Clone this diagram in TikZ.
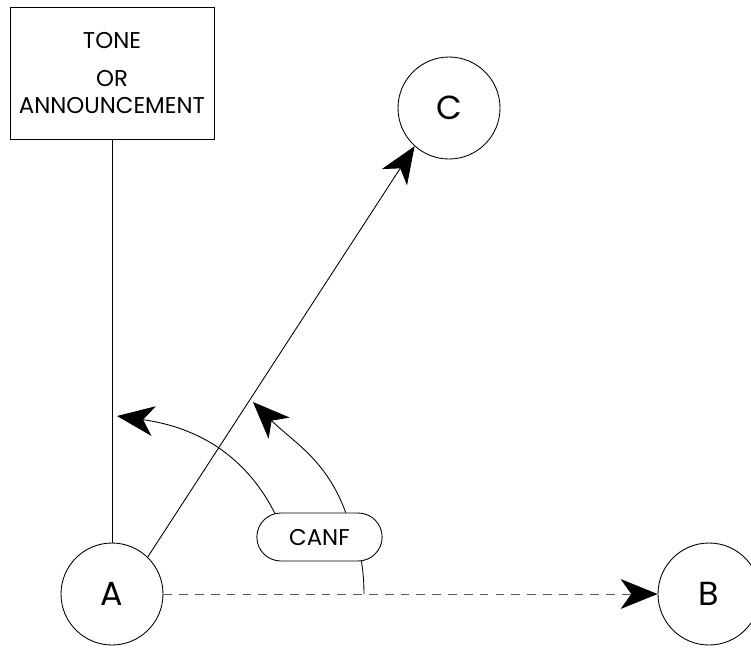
\documentclass[tikz,border=0pt]{standalone}
\usepackage{fontspec}
\setmainfont{Poppins}
\usetikzlibrary{arrows.meta,shapes.misc}

\begin{document}
\begin{tikzpicture}[x=0.02cm, y=0.02cm, line width=0.5pt,
    party/.style={draw, circle, minimum size=102*0.02cm, inner sep=0pt, font=\fontsize{19}{22}\selectfont},
    tonebox/.style={draw, minimum width=204*0.02cm, minimum height=132*0.02cm, align=center, font=\fontsize{13}{15.2}\selectfont},
    canfbox/.style={draw, rounded rectangle, minimum width=137*0.02cm, minimum height=48*0.02cm, font=\fontsize{13}{15}\selectfont},
    arr/.style={-{Stealth[length=21pt, width=17pt, inset=6pt, color=black]}}]
  \useasboundingbox (0,0) rectangle (751,-647);
  \node[tonebox] (tone) at (112,-73) {TONE\\[6.6pt]OR\\ANNOUNCEMENT};
  \node[party] (A) at (112,-594) {A};
  \node[party] (B) at (709,-594) {B};
  \node[party] (C) at (449,-108) {C};
  \node[canfbox] (canf) at (319.5,-537) {CANF};
  \coordinate (join) at (364,-594);
  \coordinate (toneend) at (117,-416);
  \coordinate (cend) at (253,-402);
  % connections
  \draw (tone.south) -- (A.north);
  \draw[arr] (A.46) -- (C.228);
  \draw[arr, dashed, dash pattern=on 5pt off 4pt, black!65] (A.east) -- (B.west);
  \draw (canf.-30) to[bend left=4] (join);
  % redirection arcs
  \draw[arr] (canf.152) to[out=117, in=-8] (toneend);
  \draw[arr] (canf.43) to[out=110, in=-45] (cend);
\end{tikzpicture}
\end{document}
